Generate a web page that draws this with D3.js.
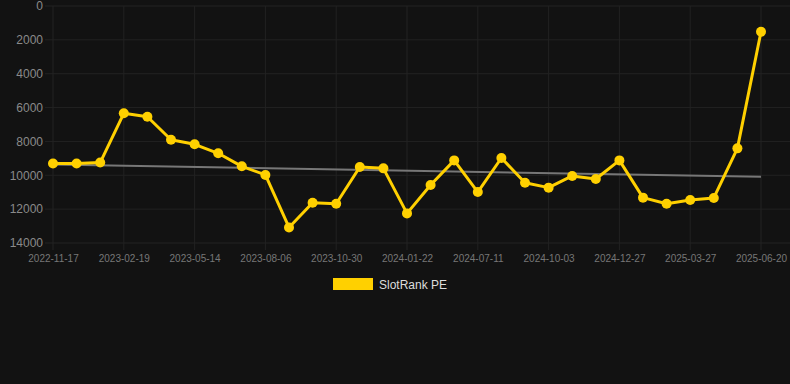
<!DOCTYPE html>
<html>
<head>
<meta charset="utf-8">
<script src="https://cdn.jsdelivr.net/npm/d3@7"></script>
<style>
  html, body { margin: 0; padding: 0; background: #121212; }
  svg { display: block; font-family: "Liberation Sans", Arial, sans-serif; }
</style>
</head>
<body>
<div id="chart"></div>
<script>
// dates of each sample (every third one is shown on the axis)
const dates = [
  '2022-11-17', '2022-12-19', '2023-01-20', '2023-02-19', '2023-03-19', '2023-04-16',
  '2023-05-14', '2023-06-11', '2023-07-09', '2023-08-06', '2023-09-03', '2023-10-02',
  '2023-10-30', '2023-11-27', '2023-12-25', '2024-01-22', '2024-03-18', '2024-05-14',
  '2024-07-11', '2024-08-08', '2024-09-05', '2024-10-03', '2024-10-31', '2024-11-29',
  '2024-12-27', '2025-01-26', '2025-02-25', '2025-03-27', '2025-04-24', '2025-05-22',
  '2025-06-20'
];
const rankValues = [
  9300, 9300, 9250, 6340, 6540, 7900, 8170, 8700, 9470, 9980, 13080,
  11620, 11680, 9510, 9590, 12250, 10570, 9120, 10990, 8980, 10440,
  10730, 10040, 10220, 9120, 11320, 11680, 11460, 11340, 8410, 1520
];
const trendValues = [9365, 10090];   // first / last date of the trend line
const yTicks = [0, 2000, 4000, 6000, 8000, 10000, 12000, 14000];
const seriesName = 'SlotRank PE';

const width = 790, height = 384;
const margin = {left: 45, right: 0, top: 6, bottom: 141};
const YELLOW = '#ffd000';

const svg = d3.select('#chart').append('svg')
    .attr('width', width)
    .attr('height', height);

const x = d3.scalePoint()
    .domain(dates)
    .range([53, 761]);

const y = d3.scaleLinear()
    .domain([0, 14000])
    .range([margin.top, height - margin.bottom]);

// horizontal grid + y labels
const yAxis = svg.append('g')
    .attr('transform', `translate(${margin.left},0)`)
    .call(d3.axisLeft(y).tickValues(yTicks).tickSize(0).tickPadding(2).tickFormat(d3.format('d')));
yAxis.select('.domain').remove();
yAxis.selectAll('text')
    .attr('fill', '#8a8a8a')
    .style('font-size', '12px');

svg.append('g')
  .selectAll('line')
  .data(yTicks)
  .join('line')
    .attr('x1', margin.left)
    .attr('x2', width - margin.right)
    .attr('y1', d => y(d))
    .attr('y2', d => y(d))
    .attr('stroke', '#222')
    .attr('stroke-width', 1);

// vertical grid at labelled dates
const shown = dates.filter((d, i) => i % 3 === 0);
svg.append('g')
  .selectAll('line')
  .data(shown)
  .join('line')
    .attr('x1', d => x(d))
    .attr('x2', d => x(d))
    .attr('y1', margin.top)
    .attr('y2', y(14000) + 7)
    .attr('stroke', '#222')
    .attr('stroke-width', 1);

const xAxis = svg.append('g')
    .attr('transform', `translate(0,${y(14000)})`)
    .call(d3.axisBottom(x).tickValues(shown).tickSize(0).tickPadding(12));
xAxis.select('.domain').remove();
xAxis.selectAll('text')
    .attr('fill', '#777')
    .style('font-size', '10px');

// trend line
svg.append('line')
    .attr('x1', x(dates[0]))
    .attr('x2', x(dates[dates.length - 1]))
    .attr('y1', y(trendValues[0]))
    .attr('y2', y(trendValues[1]))
    .attr('stroke', '#777')
    .attr('stroke-width', 2);

// series
const line = d3.line()
    .x((d, i) => x(dates[i]))
    .y(d => y(d));

svg.append('path')
    .datum(rankValues)
    .attr('d', line)
    .attr('fill', 'none')
    .attr('stroke', YELLOW)
    .attr('stroke-width', 3)
    .attr('stroke-linejoin', 'round');

svg.append('g')
  .selectAll('circle')
  .data(rankValues)
  .join('circle')
    .attr('cx', (d, i) => x(dates[i]))
    .attr('cy', d => y(d))
    .attr('r', 5)
    .attr('fill', YELLOW);

// legend
const legend = svg.append('g').attr('transform', 'translate(333,278)');
legend.append('rect')
    .attr('width', 40)
    .attr('height', 12)
    .attr('fill', YELLOW);
legend.append('text')
    .attr('x', 46)
    .attr('y', 10.5)
    .attr('fill', '#ddd')
    .style('font-size', '12px')
    .text(seriesName);
</script>
</body>
</html>
